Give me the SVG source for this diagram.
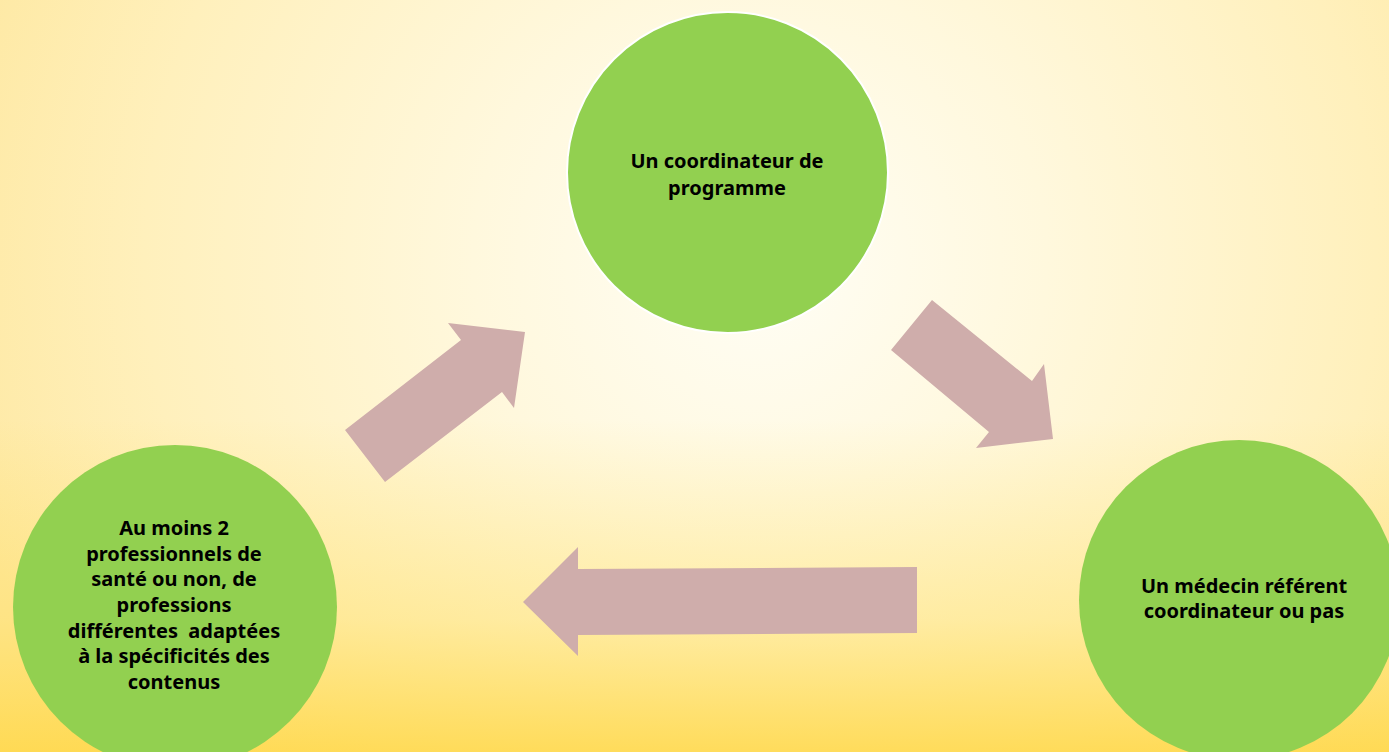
<svg xmlns="http://www.w3.org/2000/svg" width="1389" height="752" viewBox="0 0 1389 752">
  <defs>
    <radialGradient id="bg" gradientUnits="userSpaceOnUse" cx="760" cy="260" r="820">
      <stop offset="0" stop-color="#FFFEF6"/>
      <stop offset="0.35" stop-color="#FFF8DD"/>
      <stop offset="0.75" stop-color="#FFF0BC"/>
      <stop offset="1" stop-color="#FEE9A4"/>
    </radialGradient>
    <linearGradient id="bgBottom" gradientUnits="userSpaceOnUse" x1="0" y1="420" x2="0" y2="752">
      <stop offset="0" stop-color="#FFDA4A" stop-opacity="0"/>
      <stop offset="0.6" stop-color="#FFDA4A" stop-opacity="0.35"/>
      <stop offset="1" stop-color="#FFD640" stop-opacity="0.8"/>
    </linearGradient>
    <style>
      .node { fill: #92D050; }
      .arrow { fill: #CFADAB; }
      .label { font-family: "Noto Sans", "Open Sans", "Liberation Sans", sans-serif; font-weight: bold; font-size: 20px; fill: #000000; text-anchor: middle; }
    </style>
  </defs>
  <rect x="0" y="0" width="1389" height="752" fill="url(#bg)"/>
  <rect x="0" y="0" width="1389" height="752" fill="url(#bgBottom)"/>

  <g id="connectors">
    <polygon class="arrow" points="345,430 461,340 448,323 525,332 514,408 502,392 385,482"/>
    <polygon class="arrow" points="932,300 1032,381 1044,364 1053,439 976,448 989,432 891,350"/>
    <polygon class="arrow" points="523,602 578,547 578,569 917,567 917,633 578,635 578,656"/>
  </g>

  <g id="node-coordinateur">
    <circle class="node" cx="727.5" cy="172.5" r="160.5" stroke="#FFFFFF" stroke-width="2"/>
    <text class="label" x="727" y="168">Un coordinateur de</text>
    <text class="label" x="727" y="195">programme</text>
  </g>

  <g id="node-medecin">
    <circle class="node" cx="1239" cy="600" r="160"/>
    <text class="label" x="1244" y="593">Un médecin référent</text>
    <text class="label" x="1244" y="618">coordinateur ou pas</text>
  </g>

  <g id="node-professionnels">
    <circle class="node" cx="175" cy="607" r="162"/>
    <text class="label" x="174" y="535">Au moins 2</text>
    <text class="label" x="174" y="561">professionnels de</text>
    <text class="label" x="174" y="586">santé ou non, de</text>
    <text class="label" x="174" y="612">professions</text>
    <text class="label" x="174" y="638" xml:space="preserve">différentes  adaptées</text>
    <text class="label" x="174" y="663">à la spécificités des</text>
    <text class="label" x="174" y="689">contenus</text>
  </g>
</svg>
